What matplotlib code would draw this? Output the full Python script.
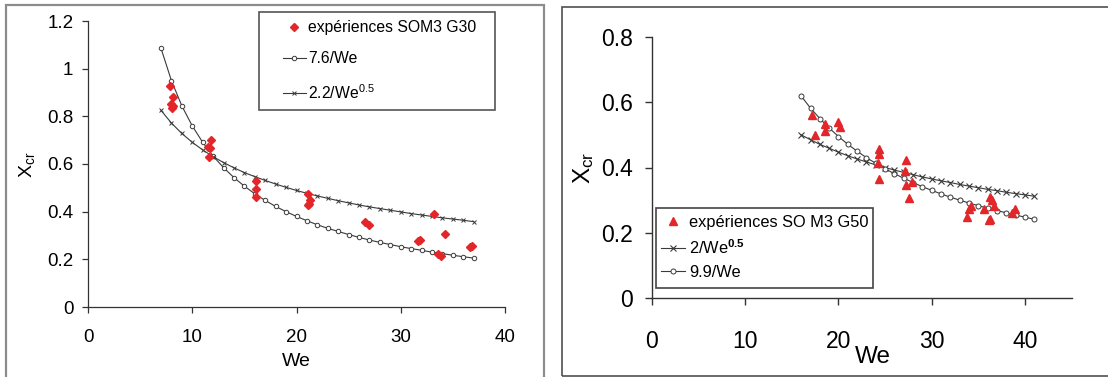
import matplotlib
matplotlib.use("Agg")
import matplotlib.pyplot as plt
from matplotlib.patches import Rectangle

plt.rcParams["font.family"] = ["Liberation Sans", "DejaVu Sans"]
plt.rcParams["mathtext.fontset"] = "custom"
plt.rcParams["mathtext.rm"] = "Liberation Sans"
plt.rcParams["mathtext.bf"] = "Liberation Sans:bold"
plt.rcParams["mathtext.it"] = "Liberation Sans:italic"
plt.rcParams["mathtext.default"] = "regular"

# --- panneau gauche : SOM3 G30 ---
we_g30 = [7.9, 8.2, 8.0, 8.2, 8.1, 11.8, 11.5, 11.7, 11.6, 16.1, 16.1, 16.1,
          21.1, 21.3, 21.2, 21.1, 26.6, 27.0, 31.7, 31.8, 33.2, 33.6, 33.9,
          34.2, 36.6, 36.8]
x_g30 = [0.928, 0.883, 0.851, 0.844, 0.834, 0.699, 0.673, 0.669, 0.629,
         0.527, 0.496, 0.460, 0.475, 0.447, 0.432, 0.426, 0.356, 0.345,
         0.278, 0.282, 0.390, 0.222, 0.212, 0.306, 0.250, 0.257]

we_fit_g30 = list(range(7, 38))
fit_76 = [1.086, 0.950, 0.844, 0.760, 0.691, 0.633, 0.585, 0.543, 0.507,
          0.475, 0.447, 0.422, 0.400, 0.380, 0.362, 0.345, 0.330, 0.317,
          0.304, 0.292, 0.281, 0.271, 0.262, 0.253, 0.245, 0.238, 0.230,
          0.224, 0.217, 0.211, 0.205]
fit_22 = [0.825, 0.772, 0.728, 0.691, 0.659, 0.631, 0.606, 0.584, 0.564,
          0.547, 0.531, 0.516, 0.502, 0.489, 0.477, 0.466, 0.456, 0.446,
          0.437, 0.428, 0.420, 0.413, 0.406, 0.399, 0.392, 0.386, 0.380,
          0.374, 0.369, 0.364, 0.358]

# --- panneau droit : SO M3 G50 ---
we_g50 = [17.2, 17.5, 18.5, 18.6, 20.0, 20.2, 24.3, 24.3, 24.2, 24.3,
          27.2, 27.1, 27.2, 27.9, 27.6, 33.8, 34.0, 34.2, 35.6, 36.2,
          36.5, 36.1, 36.3, 36.7, 38.6, 38.9]
x_g50 = [0.562, 0.501, 0.532, 0.512, 0.538, 0.524, 0.456, 0.440, 0.415,
         0.366, 0.422, 0.389, 0.347, 0.356, 0.308, 0.248, 0.274, 0.282,
         0.272, 0.310, 0.299, 0.238, 0.243, 0.282, 0.262, 0.274]

we_fit_g50 = list(range(16, 42))
fit_99 = [0.619, 0.582, 0.550, 0.521, 0.495, 0.471, 0.450, 0.430, 0.413,
          0.396, 0.381, 0.367, 0.354, 0.341, 0.330, 0.319, 0.309, 0.300,
          0.291, 0.283, 0.275, 0.268, 0.261, 0.254, 0.248, 0.241]
fit_2 = [0.500, 0.485, 0.471, 0.459, 0.447, 0.436, 0.426, 0.417, 0.408,
         0.400, 0.392, 0.385, 0.378, 0.371, 0.365, 0.359, 0.354, 0.348,
         0.343, 0.338, 0.333, 0.329, 0.324, 0.320, 0.316, 0.312]

RED = "#e3262a"
LINE = "#3a3a3a"
W, H = 1108, 377

fig = plt.figure(figsize=(W / 100, H / 100), dpi=100)


def axes_px(x0, x1, ytop, ybot):
    return fig.add_axes([x0 / W, 1 - ybot / H, (x1 - x0) / W, (ybot - ytop) / H])


def rect_px(x0, x1, ytop, ybot, color, lw):
    fig.add_artist(Rectangle((x0 / W, 1 - ybot / H), (x1 - x0) / W, (ybot - ytop) / H,
                             transform=fig.transFigure, fill=False,
                             edgecolor=color, linewidth=lw))


# cadres des deux panneaux
rect_px(6, 544, 5, 400, "#8c8c8c", 1.6)
rect_px(562, 1130, 7, 376, "#505050", 1.2)

# ---------------- gauche ----------------
ax1 = axes_px(88, 505, 21, 307)
ax1.plot(we_g30, x_g30, "D", color=RED, ms=4.2, ls="none", zorder=3,
         label="expériences SOM3 G30")
ax1.plot(we_fit_g30, fit_76, "-o", color=LINE, lw=0.8, ms=3.2, mfc="white",
         mec=LINE, mew=0.7, label="7.6/We")
ax1.plot(we_fit_g30, fit_22, "-x", color=LINE, lw=0.8, ms=3.2, mew=0.7,
         label="2.2/We$^{0.5}$")
ax1.set_xlim(0, 40)
ax1.set_ylim(0, 1.2)
ax1.set_xticks([0, 10, 20, 30, 40])
ax1.set_yticks([0, 0.2, 0.4, 0.6, 0.8, 1.0, 1.2])
ax1.set_yticklabels(["0", "0.2", "0.4", "0.6", "0.8", "1", "1.2"])
ax1.tick_params(axis="both", direction="out", length=4.5, width=0.9,
                labelsize=13.5, color="#333333")
ax1.tick_params(axis="x", pad=11)
ax1.tick_params(axis="y", pad=6)
for s in ["top", "right"]:
    ax1.spines[s].set_visible(False)
for s in ["left", "bottom"]:
    ax1.spines[s].set_linewidth(0.9)
    ax1.spines[s].set_color("#333333")
ax1.set_xlabel("We", fontsize=14)
ax1.xaxis.label.set_va("center")
ax1.xaxis.set_label_coords(0.5, -0.192)
ax1.set_ylabel("X$_{cr}$", fontsize=14)
ax1.yaxis.label.set_va("center")
ax1.yaxis.set_label_coords(-0.146, 0.497)

rect_px(259, 495, 12, 110, "#555555", 1.2)
ax1.legend(loc="upper left", bbox_to_anchor=(283 / W, 1 - 20 / H),
           bbox_transform=fig.transFigure, frameon=False, borderpad=0,
           borderaxespad=0, fontsize=11.3, numpoints=1, handlelength=1.45,
           handletextpad=0.15, labelspacing=1.05)

# ---------------- droite ----------------
ax2 = axes_px(652, 1071.6, 37, 298)
ax2.plot(we_fit_g50, fit_2, "-x", color=LINE, lw=0.8, ms=4.8, mew=0.8,
         label="2/We$^{\\mathbf{0.5}}$")
ax2.plot(we_fit_g50, fit_99, "-o", color=LINE, lw=0.8, ms=3.6, mfc="white",
         mec=LINE, mew=0.7, label="9.9/We")
ax2.plot(we_g50, x_g50, "^", color=RED, ms=6, ls="none", zorder=3,
         label="expériences SO M3 G50")
ax2.set_xlim(0, 45)
ax2.set_ylim(0, 0.8)
ax2.set_xticks([0, 10, 20, 30, 40])
ax2.set_yticks([0, 0.2, 0.4, 0.6, 0.8])
ax2.set_yticklabels(["0", "0.2", "0.4", "0.6", "0.8"])
ax2.tick_params(axis="both", direction="out", length=5, width=1.0,
                labelsize=16.5, color="#333333")
ax2.tick_params(axis="x", pad=18)
ax2.tick_params(axis="y", pad=8.5)
for s in ["top", "right"]:
    ax2.spines[s].set_visible(False)
for s in ["left", "bottom"]:
    ax2.spines[s].set_linewidth(1.0)
    ax2.spines[s].set_color("#333333")
ax2.set_xlabel("We", fontsize=17.5)
ax2.xaxis.label.set_va("center")
ax2.xaxis.set_label_coords(0.527, -0.226)
ax2.set_ylabel("X$_{cr}$", fontsize=17.5)
ax2.yaxis.label.set_va("center")
ax2.yaxis.set_label_coords(-0.162, 0.498)

rect_px(656, 873, 208, 288, "#444444", 1.2)
h, l = ax2.get_legend_handles_labels()
order = [2, 0, 1]
ax2.legend([h[i] for i in order], [l[i] for i in order], loc="upper left",
           bbox_to_anchor=(661 / W, 1 - 215 / H), bbox_transform=fig.transFigure,
           frameon=False, borderpad=0, borderaxespad=0, fontsize=11.8,
           numpoints=1, handlelength=1.45, handletextpad=0.25, labelspacing=0.5)

fig.savefig("out.png", dpi=100)
